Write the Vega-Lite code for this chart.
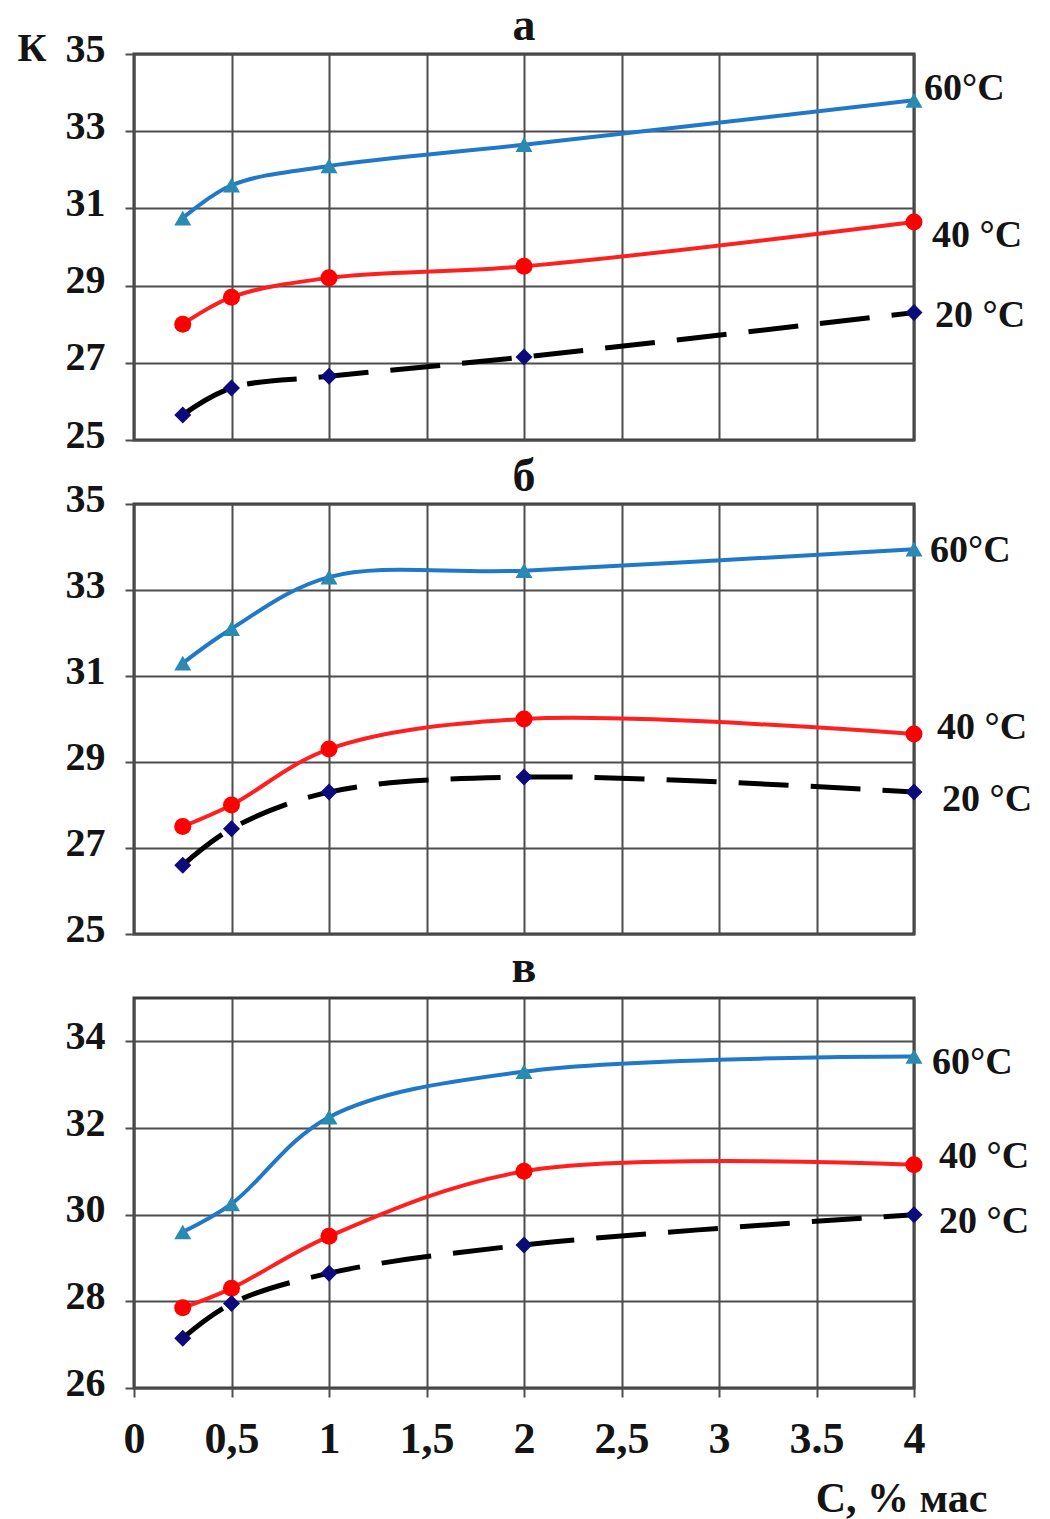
{
  "$schema": "https://vega.github.io/schema/vega-lite/v6.json",
  "background": "white",
  "padding": {"left": 15, "top": 1, "right": 5, "bottom": 5},
  "bounds": "flush",
  "spacing": 64,
  "config": {
    "font": "Liberation Serif",
    "view": {"stroke": "#3a3a3a", "strokeWidth": 3},
    "axis": {
      "domain": false,
      "grid": true,
      "gridColor": "#4d4d4d",
      "gridWidth": 2,
      "gridOpacity": 1,
      "tickColor": "#4d4d4d",
      "tickWidth": 2,
      "tickSize": 9,
      "labelFont": "Liberation Serif",
      "labelFontWeight": "bold",
      "labelColor": "#141414",
      "labelOverlap": false,
      "titleFont": "Liberation Serif",
      "titleFontWeight": "bold",
      "titleColor": "#141414"
    },
    "axisY": {"labelFontSize": 40, "labelPadding": 20, "labelOffset": -5, "labelBaseline": "middle"},
    "axisX": {"labelFontSize": 44, "labelFlush": false, "labelPadding": 20},
    "title": {"font": "Liberation Serif", "fontWeight": "bold", "fontSize": 46, "color": "#141414", "anchor": "middle", "frame": "group"}
  },
  "data": {
    "values": [
      {"p": "а", "T": "60", "C": 0.25, "K": 30.75},
      {"p": "а", "T": "60", "C": 0.5, "K": 31.6},
      {"p": "а", "T": "60", "C": 1, "K": 32.1},
      {"p": "а", "T": "60", "C": 2, "K": 32.65},
      {"p": "а", "T": "60", "C": 4, "K": 33.8},
      {"p": "а", "T": "40", "C": 0.25, "K": 28.0},
      {"p": "а", "T": "40", "C": 0.5, "K": 28.7},
      {"p": "а", "T": "40", "C": 1, "K": 29.2},
      {"p": "а", "T": "40", "C": 2, "K": 29.5},
      {"p": "а", "T": "40", "C": 4, "K": 30.65},
      {"p": "а", "T": "20", "C": 0.25, "K": 25.65},
      {"p": "а", "T": "20", "C": 0.5, "K": 26.35},
      {"p": "а", "T": "20", "C": 1, "K": 26.65},
      {"p": "а", "T": "20", "C": 2, "K": 27.15},
      {"p": "а", "T": "20", "C": 4, "K": 28.3},
      {"p": "б", "T": "60", "C": 0.25, "K": 31.3},
      {"p": "б", "T": "60", "C": 0.5, "K": 32.1},
      {"p": "б", "T": "60", "C": 1, "K": 33.3},
      {"p": "б", "T": "60", "C": 2, "K": 33.45},
      {"p": "б", "T": "60", "C": 4, "K": 33.95},
      {"p": "б", "T": "40", "C": 0.25, "K": 27.5},
      {"p": "б", "T": "40", "C": 0.5, "K": 28.0},
      {"p": "б", "T": "40", "C": 1, "K": 29.3},
      {"p": "б", "T": "40", "C": 2, "K": 30.0},
      {"p": "б", "T": "40", "C": 4, "K": 29.65},
      {"p": "б", "T": "20", "C": 0.25, "K": 26.6},
      {"p": "б", "T": "20", "C": 0.5, "K": 27.45},
      {"p": "б", "T": "20", "C": 1, "K": 28.3},
      {"p": "б", "T": "20", "C": 2, "K": 28.65},
      {"p": "б", "T": "20", "C": 4, "K": 28.3},
      {"p": "в", "T": "60", "C": 0.25, "K": 29.6},
      {"p": "в", "T": "60", "C": 0.5, "K": 30.25},
      {"p": "в", "T": "60", "C": 1, "K": 32.25},
      {"p": "в", "T": "60", "C": 2, "K": 33.3},
      {"p": "в", "T": "60", "C": 4, "K": 33.65},
      {"p": "в", "T": "40", "C": 0.25, "K": 27.85},
      {"p": "в", "T": "40", "C": 0.5, "K": 28.3},
      {"p": "в", "T": "40", "C": 1, "K": 29.5},
      {"p": "в", "T": "40", "C": 2, "K": 31.0},
      {"p": "в", "T": "40", "C": 4, "K": 31.15},
      {"p": "в", "T": "20", "C": 0.25, "K": 27.15},
      {"p": "в", "T": "20", "C": 0.5, "K": 27.95},
      {"p": "в", "T": "20", "C": 1, "K": 28.65},
      {"p": "в", "T": "20", "C": 2, "K": 29.3},
      {"p": "в", "T": "20", "C": 4, "K": 30.0}
    ]
  },
  "resolve": {"scale": {"x": "independent", "y": "independent"}},
  "vconcat": [
    {
      "width": 780,
      "height": 386,
      "title": {"text": "а", "offset": -22},
      "transform": [{"filter": "datum.p == 'а'"}],
      "encoding": {
        "x": {"field": "C", "type": "quantitative", "scale": {"domain": [0, 4], "nice": false},
              "axis": {"values": [0, 0.5, 1, 1.5, 2, 2.5, 3, 3.5, 4], "labels": false, "ticks": false, "title": null}},
        "y": {"field": "K", "type": "quantitative", "scale": {"domain": [25, 35], "nice": false, "zero": false},
              "axis": {"values": [25, 27, 29, 31, 33, 35], "title": "К", "titleAngle": 0, "titleAlign": "left", "titleBaseline": "alphabetic", "titleFontSize": 40, "titleX": -117, "titleY": 6}}
      },
      "layer": [
        {"transform": [{"filter": "datum.T != '20'"}],
         "mark": {"type": "line", "interpolate": "catmull-rom", "strokeWidth": 4},
         "encoding": {"color": {"field": "T", "type": "nominal", "scale": {"domain": ["60", "40"], "range": ["#1f78c8", "#ff1f1f"]}, "legend": null}}},
        {"transform": [{"filter": "datum.T == '20'"}],
         "mark": {"type": "line", "interpolate": "catmull-rom", "strokeWidth": 5, "color": "#000000", "strokeDash": [50, 22]}},
        {"mark": {"type": "point", "filled": true, "opacity": 1, "size": 290, "strokeWidth": 0},
         "encoding": {
           "shape": {"field": "T", "type": "nominal", "scale": {"domain": ["60", "40", "20"], "range": ["triangle-up", "circle", "diamond"]}, "legend": null},
           "fill": {"field": "T", "type": "nominal", "scale": {"domain": ["60", "40", "20"], "range": ["#2a8ab2", "#ff0000", "#0b0b7a"]}, "legend": null}}},
        {"transform": [{"filter": "datum.T == '60' && datum.C == 4"}],
         "mark": {"type": "text", "align": "left", "baseline": "middle", "dx": 10, "dy": -11, "fontSize": 38, "fontWeight": "bold", "color": "#141414"},
         "encoding": {"text": {"value": "60°C"}}},
        {"transform": [{"filter": "datum.T == '40' && datum.C == 4"}],
         "mark": {"type": "text", "align": "left", "baseline": "middle", "dx": 18, "dy": 14, "fontSize": 38, "fontWeight": "bold", "color": "#141414"},
         "encoding": {"text": {"value": "40 °C"}}},
        {"transform": [{"filter": "datum.T == '20' && datum.C == 4"}],
         "mark": {"type": "text", "align": "left", "baseline": "middle", "dx": 21, "dy": 3, "fontSize": 38, "fontWeight": "bold", "color": "#141414"},
         "encoding": {"text": {"value": "20 °C"}}}
      ]
    },
    {
      "width": 780,
      "height": 430,
      "title": {"text": "б", "offset": -22},
      "transform": [{"filter": "datum.p == 'б'"}],
      "encoding": {
        "x": {"field": "C", "type": "quantitative", "scale": {"domain": [0, 4], "nice": false},
              "axis": {"values": [0, 0.5, 1, 1.5, 2, 2.5, 3, 3.5, 4], "labels": false, "ticks": false, "title": null}},
        "y": {"field": "K", "type": "quantitative", "scale": {"domain": [25, 35], "nice": false, "zero": false},
              "axis": {"values": [25, 27, 29, 31, 33, 35], "title": null}}
      },
      "layer": [
        {"transform": [{"filter": "datum.T != '20'"}],
         "mark": {"type": "line", "interpolate": "catmull-rom", "strokeWidth": 4},
         "encoding": {"color": {"field": "T", "type": "nominal", "scale": {"domain": ["60", "40"], "range": ["#1f78c8", "#ff1f1f"]}, "legend": null}}},
        {"transform": [{"filter": "datum.T == '20'"}],
         "mark": {"type": "line", "interpolate": "catmull-rom", "strokeWidth": 5, "color": "#000000", "strokeDash": [50, 22]}},
        {"mark": {"type": "point", "filled": true, "opacity": 1, "size": 290, "strokeWidth": 0},
         "encoding": {
           "shape": {"field": "T", "type": "nominal", "scale": {"domain": ["60", "40", "20"], "range": ["triangle-up", "circle", "diamond"]}, "legend": null},
           "fill": {"field": "T", "type": "nominal", "scale": {"domain": ["60", "40", "20"], "range": ["#2a8ab2", "#ff0000", "#0b0b7a"]}, "legend": null}}},
        {"transform": [{"filter": "datum.T == '60' && datum.C == 4"}],
         "mark": {"type": "text", "align": "left", "baseline": "middle", "dx": 16, "dy": 2, "fontSize": 38, "fontWeight": "bold", "color": "#141414"},
         "encoding": {"text": {"value": "60°C"}}},
        {"transform": [{"filter": "datum.T == '40' && datum.C == 4"}],
         "mark": {"type": "text", "align": "left", "baseline": "middle", "dx": 23, "dy": -6, "fontSize": 38, "fontWeight": "bold", "color": "#141414"},
         "encoding": {"text": {"value": "40 °C"}}},
        {"transform": [{"filter": "datum.T == '20' && datum.C == 4"}],
         "mark": {"type": "text", "align": "left", "baseline": "middle", "dx": 28, "dy": 8, "fontSize": 38, "fontWeight": "bold", "color": "#141414"},
         "encoding": {"text": {"value": "20 °C"}}}
      ]
    },
    {
      "width": 780,
      "height": 390,
      "title": {"text": "в", "offset": 6},
      "transform": [{"filter": "datum.p == 'в'"}],
      "encoding": {
        "x": {"field": "C", "type": "quantitative", "scale": {"domain": [0, 4], "nice": false},
              "axis": {"values": [0, 0.5, 1, 1.5, 2, 2.5, 3, 3.5, 4], "format": "~g",
                       "labelExpr": "datum.value == 3.5 ? '3.5' : replace(datum.label, '.', ',')",
                       "title": "С, % мас", "titleFontSize": 42, "titleAlign": "right", "titleBaseline": "alphabetic", "titleX": 853, "titleY": 123}},
        "y": {"field": "K", "type": "quantitative", "scale": {"domain": [26, 35], "nice": false, "zero": false},
              "axis": {"values": [26, 28, 30, 32, 34], "title": null}}
      },
      "layer": [
        {"transform": [{"filter": "datum.T != '20'"}],
         "mark": {"type": "line", "interpolate": "catmull-rom", "strokeWidth": 4},
         "encoding": {"color": {"field": "T", "type": "nominal", "scale": {"domain": ["60", "40"], "range": ["#1f78c8", "#ff1f1f"]}, "legend": null}}},
        {"transform": [{"filter": "datum.T == '20'"}],
         "mark": {"type": "line", "interpolate": "catmull-rom", "strokeWidth": 5, "color": "#000000", "strokeDash": [50, 22]}},
        {"mark": {"type": "point", "filled": true, "opacity": 1, "size": 290, "strokeWidth": 0},
         "encoding": {
           "shape": {"field": "T", "type": "nominal", "scale": {"domain": ["60", "40", "20"], "range": ["triangle-up", "circle", "diamond"]}, "legend": null},
           "fill": {"field": "T", "type": "nominal", "scale": {"domain": ["60", "40", "20"], "range": ["#2a8ab2", "#ff0000", "#0b0b7a"]}, "legend": null}}},
        {"transform": [{"filter": "datum.T == '60' && datum.C == 4"}],
         "mark": {"type": "text", "align": "left", "baseline": "middle", "dx": 18, "dy": 6, "fontSize": 38, "fontWeight": "bold", "color": "#141414"},
         "encoding": {"text": {"value": "60°C"}}},
        {"transform": [{"filter": "datum.T == '40' && datum.C == 4"}],
         "mark": {"type": "text", "align": "left", "baseline": "middle", "dx": 25, "dy": -8, "fontSize": 38, "fontWeight": "bold", "color": "#141414"},
         "encoding": {"text": {"value": "40 °C"}}},
        {"transform": [{"filter": "datum.T == '20' && datum.C == 4"}],
         "mark": {"type": "text", "align": "left", "baseline": "middle", "dx": 25, "dy": 7, "fontSize": 38, "fontWeight": "bold", "color": "#141414"},
         "encoding": {"text": {"value": "20 °C"}}}
      ]
    }
  ]
}
